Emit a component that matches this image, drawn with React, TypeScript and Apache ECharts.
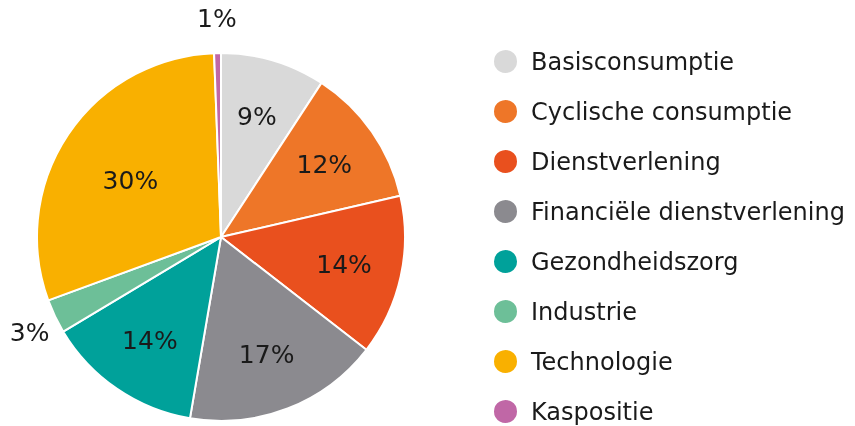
import React, { useEffect, useRef } from "react";
import * as echarts from "echarts";

const categories = [
  "Basisconsumptie",
  "Cyclische consumptie",
  "Dienstverlening",
  "Financiële dienstverlening",
  "Gezondheidszorg",
  "Industrie",
  "Technologie",
  "Kaspositie",
];
const values = [9.2, 12.2, 14.1, 17.2, 13.7, 3.0, 30.0, 0.6];
const colors = ["#d9d9d9", "#ee7628", "#e9501e", "#8b8a8f", "#00a19a", "#6dbf98", "#f9b000", "#c067a6"];
const outsideLabelNames = ["Industrie", "Kaspositie"];

const FONT = "DejaVu Sans";

export default function App() {
  const ref = useRef<HTMLDivElement>(null);
  useEffect(() => {
    if (!ref.current) return;
    const chart = echarts.init(ref.current, undefined, { renderer: "svg" });
    const data = categories.map((name, i) => ({ name, value: values[i], itemStyle: { color: colors[i] } }));
    const fmt = (p: any) => Math.round(p.value) + "%";
    const center = [221, 237];
    const labelStyle = { fontFamily: FONT, fontSize: 25, color: "#1a1a1a" };
    chart.setOption({
      animation: false,
      legend: {
        orient: "vertical",
        left: 492,
        top: 48,
        padding: 0,
        icon: "circle",
        itemWidth: 25,
        itemHeight: 25,
        itemGap: 23,
        data: categories,
        textStyle: { fontFamily: FONT, fontSize: 24, color: "#1a1a1a", padding: [0, 0, 0, 8], lineHeight: 25 },
        selectedMode: false,
      },
      series: [
        {
          type: "pie",
          center,
          radius: [0, 184],
          startAngle: 90,
          clockwise: true,
          label: { show: false },
          labelLine: { show: false },
          itemStyle: { borderColor: "#ffffff", borderWidth: 2 },
          data,
          silent: true,
        },
        {
          type: "pie",
          center,
          radius: [62, 184],
          startAngle: 90,
          clockwise: true,
          itemStyle: { color: "transparent" },
          label: { show: true, position: "inside", formatter: fmt, ...labelStyle },
          labelLine: { show: false },
          data: categories.map((name, i) => ({
            name,
            value: values[i],
            label: {
              show: !outsideLabelNames.includes(name),
              offset: name === "Technologie" ? [14, 14] : [0, 0],
            },
          })),
          silent: true,
          legendHoverLink: false,
        },
        {
          type: "pie",
          center,
          radius: [184, 252],
          startAngle: 90,
          clockwise: true,
          itemStyle: { color: "transparent" },
          label: { show: true, position: "inside", formatter: fmt, ...labelStyle },
          labelLine: { show: false },
          data: categories.map((name, i) => ({
            name,
            value: values[i],
            label: {
              show: outsideLabelNames.includes(name),
              offset: name === "Industrie" ? [8, 0] : [0, 2],
            },
          })),
          silent: true,
          legendHoverLink: false,
        },
      ],
    });
    return () => chart.dispose();
  }, []);
  return <div ref={ref} style={{ position: "fixed", left: 0, top: 0, width: 855, height: 426 }} />;
}
